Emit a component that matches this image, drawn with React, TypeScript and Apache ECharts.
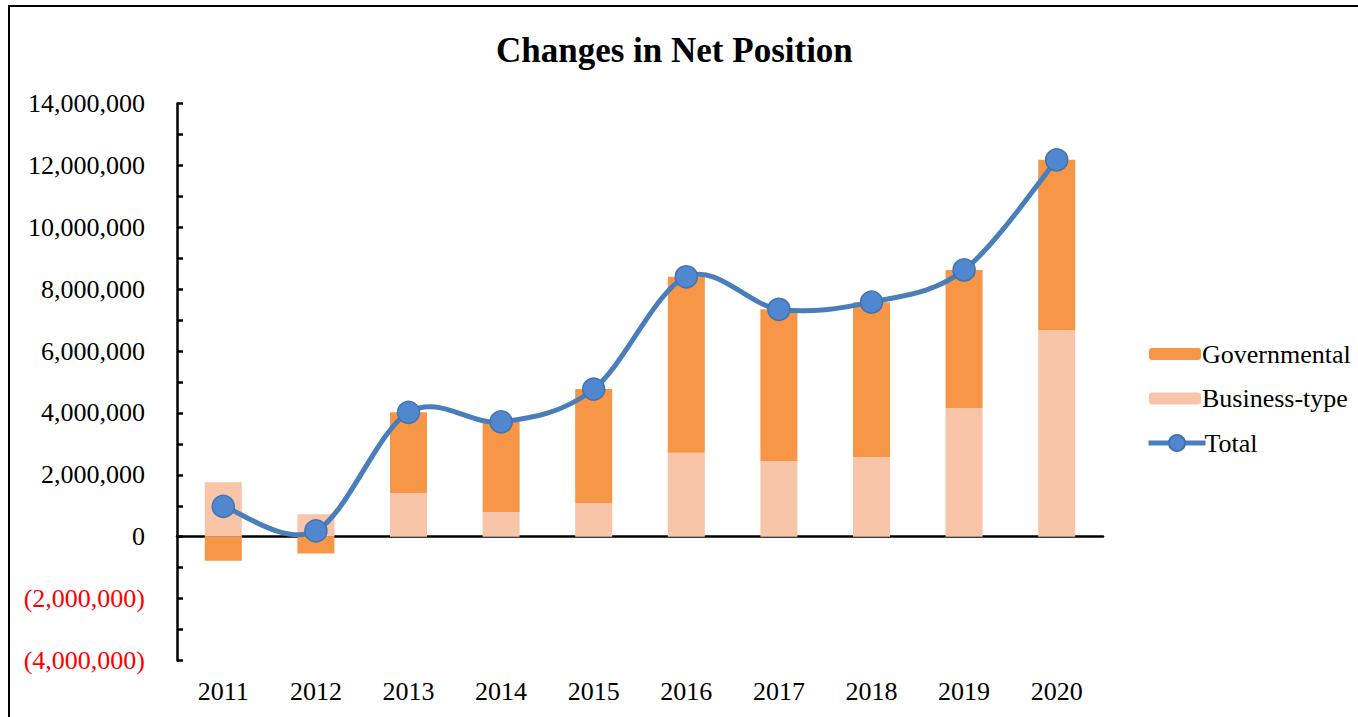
import React, { useEffect, useRef } from "react";
import * as echarts from "echarts";

const years = ["2011", "2012", "2013", "2014", "2015", "2016", "2017", "2018", "2019", "2020"];
const businessType = [1760000, 730000, 1410000, 800000, 1090000, 2710000, 2450000, 2580000, 4150000, 6670000];
const governmental = [-780000, -540000, 2610000, 2910000, 3680000, 5690000, 4900000, 5000000, 4470000, 5510000];
const total = [980000, 190000, 4020000, 3710000, 4770000, 8400000, 7350000, 7580000, 8620000, 12180000];

const FONT = "'Liberation Serif', 'Times New Roman', serif";
const LINE_COLOR = "#4A7EBB";

function fmt(n: number): string {
  return Math.abs(n).toString().replace(/\B(?=(\d{3})+(?!\d))/g, ",");
}

export default function App() {
  const ref = useRef<HTMLDivElement>(null);
  useEffect(() => {
    if (!ref.current) return;
    const chart = echarts.init(ref.current, undefined, { renderer: "svg" });
    const legendText = { fontFamily: FONT, fontSize: 26, color: "#000", lineHeight: 30, padding: [0, 0, 0, -4] };

    // Excel-like smooth curve (Catmull-Rom style Bezier) through the data points, positioned via api.coord
    const renderCurve = (params: any, api: any) => {
      if (params.dataIndex !== 0) return null;
      const pts = total.map((v, i) => api.coord([i, v]));
      const n = pts.length;
      let d = `M${pts[0][0]},${pts[0][1]}`;
      for (let i = 0; i < n - 1; i++) {
        const p0 = pts[Math.max(i - 1, 0)];
        const p1 = pts[i];
        const p2 = pts[i + 1];
        const p3 = pts[Math.min(i + 2, n - 1)];
        const c1x = p1[0] + (p2[0] - p0[0]) / 6;
        const c1y = p1[1] + (p2[1] - p0[1]) / 6;
        const c2x = p2[0] - (p3[0] - p1[0]) / 6;
        const c2y = p2[1] - (p3[1] - p1[1]) / 6;
        d += ` C${c1x},${c1y} ${c2x},${c2y} ${p2[0]},${p2[1]}`;
      }
      return {
        type: "path",
        shape: { pathData: d },
        style: { fill: "none", stroke: LINE_COLOR, lineWidth: 5, lineJoin: "round", lineCap: "round" },
        silent: true,
      };
    };

    chart.setOption({
      animation: false,
      backgroundColor: "#ffffff",
      title: {
        text: "Changes in Net Position",
        left: 491,
        top: 28,
        textStyle: { fontFamily: FONT, fontSize: 35, fontWeight: "bold", color: "#000" },
      },
      graphic: [
        {
          type: "rect",
          shape: { x: 9, y: 6, width: 2000, height: 2000 },
          style: { fill: "none", stroke: "#000", lineWidth: 2 },
          silent: true,
        },
      ],
      legend: [
        {
          orient: "vertical",
          left: 1144,
          top: 334,
          itemWidth: 52,
          itemHeight: 12,
          itemGap: 14.5,
          data: ["Governmental", "Business-type"],
          textStyle: legendText,
        },
        {
          orient: "vertical",
          left: 1141,
          top: 423,
          itemWidth: 57,
          itemHeight: 20,
          data: ["Total"],
          lineStyle: { width: 5, color: LINE_COLOR, opacity: 1 },
          textStyle: { ...legendText, padding: [0, 0, 0, -6] },
        },
      ],
      grid: { left: 177, right: 255, top: 103.5, bottom: 56.5, containLabel: false },
      xAxis: [
        {
          type: "category",
          data: years,
          position: "bottom",
          axisLine: { show: false, onZero: false },
          axisTick: { show: false },
          axisLabel: { fontFamily: FONT, fontSize: 26, color: "#000", margin: 18 },
        },
        {
          type: "category",
          data: years,
          position: "bottom",
          axisLine: { show: true, onZero: true, lineStyle: { color: "#000", width: 2.5 } },
          axisTick: { show: true, inside: true, alignWithLabel: true, length: 6, lineStyle: { color: "#000", width: 2.5 } },
          axisLabel: { show: false },
        },
      ],
      yAxis: {
        type: "value",
        min: -4000000,
        max: 14000000,
        interval: 2000000,
        axisLine: { show: true, lineStyle: { color: "#000", width: 2.5 } },
        axisTick: { show: true, inside: true, length: 6, lineStyle: { color: "#000", width: 2.5 } },
        minorTick: { show: true, splitNumber: 2, length: 6, lineStyle: { color: "#000", width: 2.5 } },
        splitLine: { show: false },
        axisLabel: {
          fontFamily: FONT,
          fontSize: 26,
          margin: 32,
          formatter: (v: number) => (v < 0 ? `(${fmt(v)})` : fmt(v)),
          color: (v: any) => (Number(v) < 0 ? "#ff0000" : "#000000"),
        },
      },
      series: [
        {
          name: "Business-type",
          type: "bar",
          stack: "net",
          barWidth: 37,
          data: businessType,
          itemStyle: { color: "#F8C5A9" },
        },
        {
          name: "Governmental",
          type: "bar",
          stack: "net",
          barWidth: 37,
          data: governmental,
          itemStyle: { color: "#F79646" },
        },
        {
          name: "TotalCurve",
          type: "custom",
          renderItem: renderCurve,
          data: total.map((v, i) => [i, v]),
          encode: { x: 0, y: 1 },
          z: 4,
          silent: true,
        },
        {
          name: "Total",
          type: "line",
          data: total,
          symbol: "circle",
          symbolSize: 22,
          z: 5,
          lineStyle: { color: LINE_COLOR, width: 5, opacity: 0 },
          itemStyle: { color: "#5087CF", borderColor: "#4273AE", borderWidth: 1.5 },
        },
      ],
    });
    return () => chart.dispose();
  }, []);
  return <div ref={ref} style={{ position: "fixed", left: 0, top: 0, width: 1358, height: 717 }} />;
}
